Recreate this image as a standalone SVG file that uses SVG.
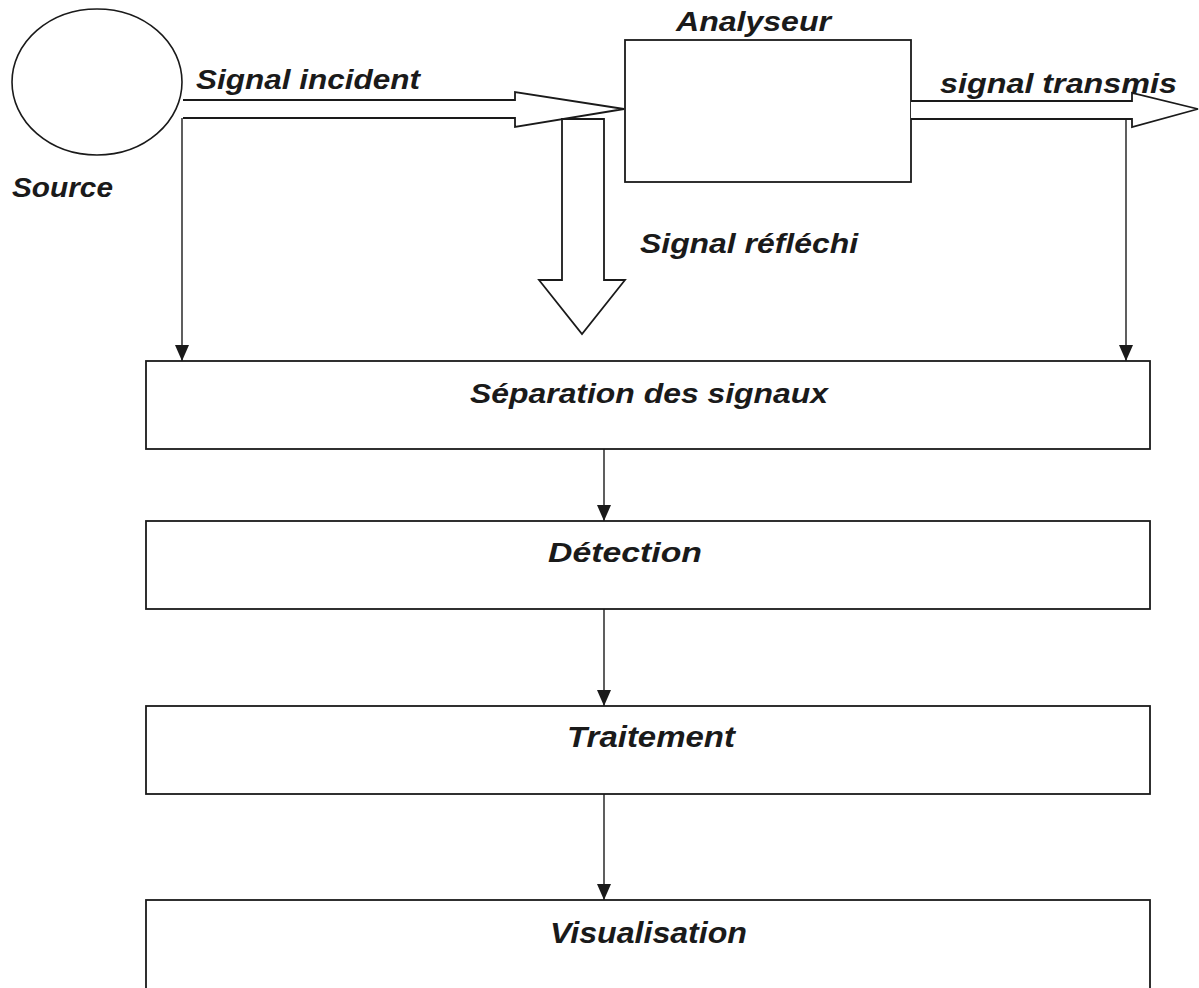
<svg xmlns="http://www.w3.org/2000/svg" width="1199" height="988" viewBox="0 0 1199 988">
<defs>
<style>
.box{fill:#fff;stroke:#1a1a1a;stroke-width:1.8}
.thin{fill:none;stroke:#1a1a1a;stroke-width:1.4}
.big{fill:#fff;stroke:#1a1a1a;stroke-width:1.8;stroke-linejoin:miter}
.lbl{font-family:"Liberation Sans",Arial,sans-serif;font-weight:bold;font-style:italic;font-size:27px;fill:#1a1a1a}
.nar{font-family:"Liberation Sans",Arial,sans-serif;font-weight:bold;font-style:italic;font-size:30px;fill:#1a1a1a}
</style>
<marker id="ah" viewBox="0 0 16 14" refX="16" refY="7" markerWidth="16" markerHeight="14" markerUnits="userSpaceOnUse" orient="auto">
<path d="M0,0 L16,7 L0,14 Z" fill="#1a1a1a"/>
</marker>
</defs>
<rect width="1199" height="988" fill="#fff"/>

<g id="source">
<ellipse cx="97" cy="82" rx="85" ry="73" fill="#fff" stroke="#1a1a1a" stroke-width="1.6"/>
<text class="lbl" x="12" y="197" textLength="101" lengthAdjust="spacingAndGlyphs">Source</text>
</g>

<g id="analyseur">
<rect class="box" x="625" y="40" width="286" height="142"/>
<text class="lbl" x="676" y="31" textLength="155" lengthAdjust="spacingAndGlyphs">Analyseur</text>
</g>

<g id="separation">
<rect class="box" x="146" y="361" width="1004" height="88"/>
<text class="lbl" x="470" y="403" textLength="358" lengthAdjust="spacingAndGlyphs">Séparation des signaux</text>
</g>

<g id="detection">
<rect class="box" x="146" y="521" width="1004" height="88"/>
<text class="lbl" x="548" y="562" textLength="154" lengthAdjust="spacingAndGlyphs">Détection</text>
</g>

<g id="traitement">
<rect class="box" x="146" y="706" width="1004" height="88"/>
<text class="nar" x="567" y="747" textLength="168" lengthAdjust="spacingAndGlyphs">Traitement</text>
</g>

<g id="visualisation">
<rect class="box" x="146" y="900" width="1004" height="90"/>
<text class="nar" x="550" y="943" textLength="197" lengthAdjust="spacingAndGlyphs">Visualisation</text>
</g>

<g id="connectors">
<path class="big" d="M183,100 L515,100 L515,92 L624,109 L515,127 L515,118 L183,118"/>
<text class="lbl" x="196" y="89" textLength="224" lengthAdjust="spacingAndGlyphs">Signal incident</text>
<path class="big" d="M911,101 L1132,101 L1132,93 L1198,109 L1132,127 L1132,119 L911,119"/>
<text class="lbl" x="940" y="93" textLength="237" lengthAdjust="spacingAndGlyphs">signal transmis</text>
<path class="big" d="M562,119 L562,280 L539,280 L582,334 L625,280 L604,280 L604,119 Z"/>
<text class="lbl" x="640" y="253" textLength="218" lengthAdjust="spacingAndGlyphs">Signal réfléchi</text>
<line class="thin" x1="182" y1="118" x2="182" y2="361" marker-end="url(#ah)"/>
<line class="thin" x1="1126" y1="119" x2="1126" y2="361" marker-end="url(#ah)"/>
<line class="thin" x1="604" y1="449" x2="604" y2="521" marker-end="url(#ah)"/>
<line class="thin" x1="604" y1="609" x2="604" y2="706" marker-end="url(#ah)"/>
<line class="thin" x1="604" y1="794" x2="604" y2="900" marker-end="url(#ah)"/>
</g>
</svg>
